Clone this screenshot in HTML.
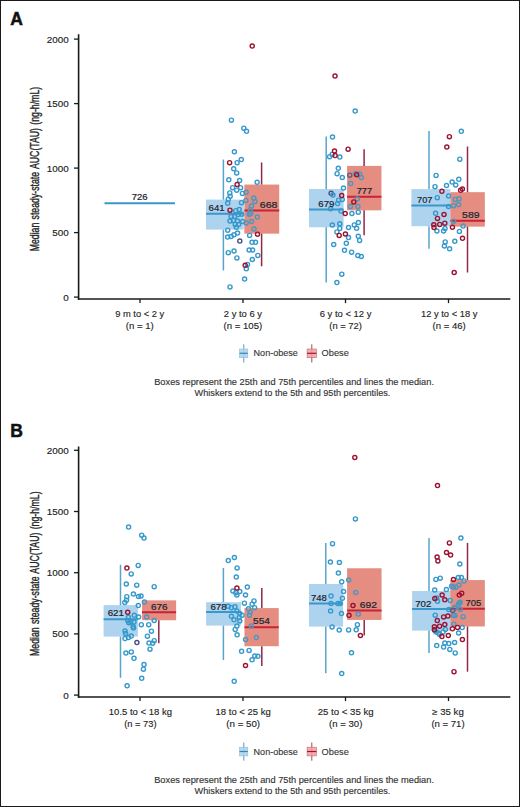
<!DOCTYPE html>
<html><head><meta charset="utf-8"><style>
html,body{margin:0;padding:0;background:#fff;}
body{width:520px;height:807px;overflow:hidden;}
svg{display:block;}
text{font-family:"Liberation Sans", sans-serif;}
</style></head><body>
<svg width="520" height="807" viewBox="0 0 520 807">
<rect x="0" y="0" width="520" height="807" fill="#fff"/>

<text x="10.3" y="25.0" font-size="17.5" fill="#111" font-weight="bold" stroke="#111" stroke-width="0.5">A</text>
<text x="0" y="0" font-size="12.3" fill="#222" stroke="#222" stroke-width="0.35" word-spacing="1.2" text-anchor="middle" textLength="164.5" lengthAdjust="spacingAndGlyphs" transform="translate(39.0,169.10) rotate(-90)">Median steady-state AUC(TAU) (ng-h/mL)</text>
<line x1="78.6" y1="34.2" x2="78.6" y2="299.70000000000005" stroke="#1a1a1a" stroke-width="1.6"/>
<line x1="77.8" y1="299.0" x2="510.3" y2="299.0" stroke="#1a1a1a" stroke-width="1.6"/>
<line x1="74" y1="297.10" x2="78.6" y2="297.10" stroke="#1a1a1a" stroke-width="1.3"/>
<text x="68.7" y="300.6" font-size="9.9" fill="#222" text-anchor="end" stroke="#222" stroke-width="0.15">0</text>
<line x1="74" y1="232.60" x2="78.6" y2="232.60" stroke="#1a1a1a" stroke-width="1.3"/>
<text x="68.7" y="236.1" font-size="9.9" fill="#222" text-anchor="end" stroke="#222" stroke-width="0.15">500</text>
<line x1="74" y1="168.10" x2="78.6" y2="168.10" stroke="#1a1a1a" stroke-width="1.3"/>
<text x="68.7" y="171.6" font-size="9.9" fill="#222" text-anchor="end" stroke="#222" stroke-width="0.15">1000</text>
<line x1="74" y1="103.60" x2="78.6" y2="103.60" stroke="#1a1a1a" stroke-width="1.3"/>
<text x="68.7" y="107.1" font-size="9.9" fill="#222" text-anchor="end" stroke="#222" stroke-width="0.15">1500</text>
<line x1="74" y1="39.10" x2="78.6" y2="39.10" stroke="#1a1a1a" stroke-width="1.3"/>
<text x="68.7" y="42.6" font-size="9.9" fill="#222" text-anchor="end" stroke="#222" stroke-width="0.15">2000</text>
<line x1="140" y1="299.0" x2="140" y2="303.1" stroke="#1a1a1a" stroke-width="1.3"/>
<line x1="243" y1="299.0" x2="243" y2="303.1" stroke="#1a1a1a" stroke-width="1.3"/>
<line x1="345.5" y1="299.0" x2="345.5" y2="303.1" stroke="#1a1a1a" stroke-width="1.3"/>
<line x1="448.5" y1="299.0" x2="448.5" y2="303.1" stroke="#1a1a1a" stroke-width="1.3"/>
<text x="139.7" y="316.9" font-size="8.8" fill="#222" text-anchor="middle" textLength="49" lengthAdjust="spacingAndGlyphs" stroke="#222" stroke-width="0.12">9 m to &lt; 2 y</text>
<text x="139.7" y="328.5" font-size="8.8" fill="#222" text-anchor="middle" textLength="28.0" lengthAdjust="spacingAndGlyphs" stroke="#222" stroke-width="0.12">(n = 1)</text>
<text x="242.9" y="316.9" font-size="8.8" fill="#222" text-anchor="middle" textLength="38.2" lengthAdjust="spacingAndGlyphs" stroke="#222" stroke-width="0.12">2 y to 6 y</text>
<text x="242.9" y="328.5" font-size="8.8" fill="#222" text-anchor="middle" textLength="38.7" lengthAdjust="spacingAndGlyphs" stroke="#222" stroke-width="0.12">(n = 105)</text>
<text x="345.6" y="316.9" font-size="8.8" fill="#222" text-anchor="middle" textLength="51.7" lengthAdjust="spacingAndGlyphs" stroke="#222" stroke-width="0.12">6 y to &lt; 12 y</text>
<text x="345.6" y="328.5" font-size="8.8" fill="#222" text-anchor="middle" textLength="32.6" lengthAdjust="spacingAndGlyphs" stroke="#222" stroke-width="0.12">(n = 72)</text>
<text x="449.2" y="316.9" font-size="8.8" fill="#222" text-anchor="middle" textLength="56.3" lengthAdjust="spacingAndGlyphs" stroke="#222" stroke-width="0.12">12 y to &lt; 18 y</text>
<text x="449.2" y="328.5" font-size="8.8" fill="#222" text-anchor="middle" textLength="33.2" lengthAdjust="spacingAndGlyphs" stroke="#222" stroke-width="0.12">(n = 46)</text>
<line x1="243.8" y1="344.30" x2="243.8" y2="362.50" stroke="#6d93b0" stroke-width="1.0"/>
<rect x="239.6" y="349.00" width="8.2" height="8.7" fill="#a9d3ef" fill-opacity="0.85" stroke="#8fbcd8" stroke-width="0.6"/>
<line x1="239.6" y1="353.30" x2="247.8" y2="353.30" stroke="#3a84b4" stroke-width="1.2"/>
<text x="253.6" y="356.4" font-size="8.8" fill="#333" textLength="44.2" lengthAdjust="spacingAndGlyphs" stroke="#333" stroke-width="0.12">Non-obese</text>
<line x1="311.8" y1="344.30" x2="311.8" y2="362.50" stroke="#9a4a5e" stroke-width="1.0"/>
<rect x="307.1" y="349.00" width="9.3" height="8.7" fill="#f0a0a0" fill-opacity="0.85" stroke="#c76a78" stroke-width="0.6"/>
<line x1="307.1" y1="353.30" x2="316.4" y2="353.30" stroke="#a8142c" stroke-width="1.2"/>
<text x="321.6" y="356.4" font-size="8.8" fill="#333" textLength="27.2" lengthAdjust="spacingAndGlyphs" stroke="#333" stroke-width="0.12">Obese</text>
<text x="154.2" y="385.0" font-size="9.8" fill="#333" textLength="279.8" lengthAdjust="spacingAndGlyphs" stroke="#333" stroke-width="0.15">Boxes represent the 25th and 75th percentiles and lines the median.</text>
<text x="194.6" y="396.3" font-size="9.8" fill="#333" textLength="195.8" lengthAdjust="spacingAndGlyphs" stroke="#333" stroke-width="0.15">Whiskers extend to the 5th and 95th percentiles.</text>
<text x="10.3" y="437.0" font-size="17.5" fill="#111" font-weight="bold" stroke="#111" stroke-width="0.5">B</text>
<text x="0" y="0" font-size="12.3" fill="#222" stroke="#222" stroke-width="0.35" word-spacing="1.2" text-anchor="middle" textLength="164.5" lengthAdjust="spacingAndGlyphs" transform="translate(39.0,573.70) rotate(-90)">Median steady-state AUC(TAU) (ng-h/mL)</text>
<line x1="78.6" y1="446.5" x2="78.6" y2="697.7" stroke="#1a1a1a" stroke-width="1.6"/>
<line x1="77.8" y1="697.0" x2="510.3" y2="697.0" stroke="#1a1a1a" stroke-width="1.6"/>
<line x1="74" y1="695.10" x2="78.6" y2="695.10" stroke="#1a1a1a" stroke-width="1.3"/>
<text x="68.7" y="698.6" font-size="9.9" fill="#222" text-anchor="end" stroke="#222" stroke-width="0.15">0</text>
<line x1="74" y1="633.90" x2="78.6" y2="633.90" stroke="#1a1a1a" stroke-width="1.3"/>
<text x="68.7" y="637.4" font-size="9.9" fill="#222" text-anchor="end" stroke="#222" stroke-width="0.15">500</text>
<line x1="74" y1="572.70" x2="78.6" y2="572.70" stroke="#1a1a1a" stroke-width="1.3"/>
<text x="68.7" y="576.2" font-size="9.9" fill="#222" text-anchor="end" stroke="#222" stroke-width="0.15">1000</text>
<line x1="74" y1="511.50" x2="78.6" y2="511.50" stroke="#1a1a1a" stroke-width="1.3"/>
<text x="68.7" y="515.0" font-size="9.9" fill="#222" text-anchor="end" stroke="#222" stroke-width="0.15">1500</text>
<line x1="74" y1="450.30" x2="78.6" y2="450.30" stroke="#1a1a1a" stroke-width="1.3"/>
<text x="68.7" y="453.8" font-size="9.9" fill="#222" text-anchor="end" stroke="#222" stroke-width="0.15">2000</text>
<line x1="140" y1="697.0" x2="140" y2="701.1" stroke="#1a1a1a" stroke-width="1.3"/>
<line x1="243" y1="697.0" x2="243" y2="701.1" stroke="#1a1a1a" stroke-width="1.3"/>
<line x1="345.5" y1="697.0" x2="345.5" y2="701.1" stroke="#1a1a1a" stroke-width="1.3"/>
<line x1="448.5" y1="697.0" x2="448.5" y2="701.1" stroke="#1a1a1a" stroke-width="1.3"/>
<text x="140.4" y="715.0" font-size="8.8" fill="#222" text-anchor="middle" textLength="63.2" lengthAdjust="spacingAndGlyphs" stroke="#222" stroke-width="0.12">10.5 to &lt; 18 kg</text>
<text x="140.4" y="726.7" font-size="8.8" fill="#222" text-anchor="middle" textLength="32.3" lengthAdjust="spacingAndGlyphs" stroke="#222" stroke-width="0.12">(n = 73)</text>
<text x="243.2" y="715.0" font-size="8.8" fill="#222" text-anchor="middle" textLength="55.3" lengthAdjust="spacingAndGlyphs" stroke="#222" stroke-width="0.12">18 to &lt; 25 kg</text>
<text x="243.2" y="726.7" font-size="8.8" fill="#222" text-anchor="middle" textLength="33.8" lengthAdjust="spacingAndGlyphs" stroke="#222" stroke-width="0.12">(n = 50)</text>
<text x="345.7" y="715.0" font-size="8.8" fill="#222" text-anchor="middle" textLength="56" lengthAdjust="spacingAndGlyphs" stroke="#222" stroke-width="0.12">25 to &lt; 35 kg</text>
<text x="345.7" y="726.7" font-size="8.8" fill="#222" text-anchor="middle" textLength="33.3" lengthAdjust="spacingAndGlyphs" stroke="#222" stroke-width="0.12">(n = 30)</text>
<text x="448.0" y="715.0" font-size="8.8" fill="#222" text-anchor="middle" textLength="31.7" lengthAdjust="spacingAndGlyphs" stroke="#222" stroke-width="0.12">≥ 35 kg</text>
<text x="448.0" y="726.7" font-size="8.8" fill="#222" text-anchor="middle" textLength="33.2" lengthAdjust="spacingAndGlyphs" stroke="#222" stroke-width="0.12">(n = 71)</text>
<line x1="243.8" y1="742.50" x2="243.8" y2="760.70" stroke="#6d93b0" stroke-width="1.0"/>
<rect x="239.6" y="747.20" width="8.2" height="8.7" fill="#a9d3ef" fill-opacity="0.85" stroke="#8fbcd8" stroke-width="0.6"/>
<line x1="239.6" y1="751.50" x2="247.8" y2="751.50" stroke="#3a84b4" stroke-width="1.2"/>
<text x="253.6" y="754.6" font-size="8.8" fill="#333" textLength="44.2" lengthAdjust="spacingAndGlyphs" stroke="#333" stroke-width="0.12">Non-obese</text>
<line x1="311.8" y1="742.50" x2="311.8" y2="760.70" stroke="#9a4a5e" stroke-width="1.0"/>
<rect x="307.1" y="747.20" width="9.3" height="8.7" fill="#f0a0a0" fill-opacity="0.85" stroke="#c76a78" stroke-width="0.6"/>
<line x1="307.1" y1="751.50" x2="316.4" y2="751.50" stroke="#a8142c" stroke-width="1.2"/>
<text x="321.6" y="754.6" font-size="8.8" fill="#333" textLength="27.2" lengthAdjust="spacingAndGlyphs" stroke="#333" stroke-width="0.12">Obese</text>
<text x="154.2" y="783.1" font-size="9.8" fill="#333" textLength="279.8" lengthAdjust="spacingAndGlyphs" stroke="#333" stroke-width="0.15">Boxes represent the 25th and 75th percentiles and lines the median.</text>
<text x="194.6" y="794.4" font-size="9.8" fill="#333" textLength="195.8" lengthAdjust="spacingAndGlyphs" stroke="#333" stroke-width="0.15">Whiskers extend to the 5th and 95th percentiles.</text>
<line x1="104.5" y1="203.2" x2="175" y2="203.2" stroke="#3898cb" stroke-width="2"/>
<text x="131.8" y="199.8" font-size="9.9" fill="#1c2430" textLength="15.8" lengthAdjust="spacingAndGlyphs" stroke="#1c2430" stroke-width="0.22">726</text>
<rect x="206.0" y="199.6" width="37.80" height="30.00" fill="#aed3ef"/>
<rect x="244.4" y="184.6" width="34.80" height="49.00" fill="#e48e80"/>
<rect x="309.0" y="189.0" width="34.60" height="38.30" fill="#aed3ef"/>
<rect x="347.1" y="165.9" width="34.30" height="44.40" fill="#e48e80"/>
<rect x="411.4" y="189.1" width="39.00" height="37.10" fill="#aed3ef"/>
<rect x="450.4" y="192.2" width="34.40" height="34.40" fill="#e48e80"/>
<rect x="103.6" y="605.1" width="34.30" height="31.50" fill="#aed3ef"/>
<rect x="142.1" y="600.4" width="34.00" height="19.80" fill="#e48e80"/>
<rect x="206.1" y="602.2" width="34.90" height="23.40" fill="#aed3ef"/>
<rect x="244.5" y="608.1" width="34.20" height="38.10" fill="#e48e80"/>
<rect x="309.0" y="584.0" width="34.10" height="42.60" fill="#aed3ef"/>
<rect x="347.1" y="568.3" width="34.40" height="51.60" fill="#e48e80"/>
<rect x="412.1" y="591.0" width="38.20" height="39.60" fill="#aed3ef"/>
<rect x="450.3" y="580.1" width="34.50" height="46.30" fill="#e48e80"/>
<line x1="223.4" y1="159.6" x2="223.4" y2="199.6" stroke="#58a4cc" stroke-width="1.5"/>
<line x1="223.4" y1="229.6" x2="223.4" y2="270.5" stroke="#58a4cc" stroke-width="1.5"/>
<line x1="261.6" y1="162.5" x2="261.6" y2="184.6" stroke="#902848" stroke-width="1.5"/>
<line x1="261.6" y1="233.6" x2="261.6" y2="266.3" stroke="#902848" stroke-width="1.5"/>
<line x1="326.2" y1="136.5" x2="326.2" y2="189.0" stroke="#58a4cc" stroke-width="1.5"/>
<line x1="326.2" y1="227.3" x2="326.2" y2="282.4" stroke="#58a4cc" stroke-width="1.5"/>
<line x1="364.1" y1="149.2" x2="364.1" y2="165.9" stroke="#902848" stroke-width="1.5"/>
<line x1="364.1" y1="210.3" x2="364.1" y2="235.3" stroke="#902848" stroke-width="1.5"/>
<line x1="429.0" y1="131.0" x2="429.0" y2="189.1" stroke="#58a4cc" stroke-width="1.5"/>
<line x1="429.0" y1="226.2" x2="429.0" y2="248.8" stroke="#58a4cc" stroke-width="1.5"/>
<line x1="467.5" y1="146.5" x2="467.5" y2="192.2" stroke="#902848" stroke-width="1.5"/>
<line x1="467.5" y1="226.6" x2="467.5" y2="272.5" stroke="#902848" stroke-width="1.5"/>
<line x1="120.5" y1="564.7" x2="120.5" y2="605.1" stroke="#58a4cc" stroke-width="1.5"/>
<line x1="120.5" y1="636.6" x2="120.5" y2="677.8" stroke="#58a4cc" stroke-width="1.5"/>
<line x1="158.8" y1="620.2" x2="158.8" y2="643.3" stroke="#902848" stroke-width="1.5"/>
<line x1="223.4" y1="567.9" x2="223.4" y2="602.2" stroke="#58a4cc" stroke-width="1.5"/>
<line x1="223.4" y1="625.6" x2="223.4" y2="660.0" stroke="#58a4cc" stroke-width="1.5"/>
<line x1="261.8" y1="588.1" x2="261.8" y2="608.1" stroke="#902848" stroke-width="1.5"/>
<line x1="261.8" y1="646.2" x2="261.8" y2="665.9" stroke="#902848" stroke-width="1.5"/>
<line x1="325.8" y1="543.1" x2="325.8" y2="584.0" stroke="#58a4cc" stroke-width="1.5"/>
<line x1="325.8" y1="626.6" x2="325.8" y2="673.2" stroke="#58a4cc" stroke-width="1.5"/>
<line x1="364.2" y1="619.9" x2="364.2" y2="635.5" stroke="#902848" stroke-width="1.5"/>
<line x1="429.0" y1="538.1" x2="429.0" y2="591.0" stroke="#58a4cc" stroke-width="1.5"/>
<line x1="429.0" y1="630.6" x2="429.0" y2="652.9" stroke="#58a4cc" stroke-width="1.5"/>
<line x1="467.5" y1="542.9" x2="467.5" y2="580.1" stroke="#902848" stroke-width="1.5"/>
<line x1="467.5" y1="626.4" x2="467.5" y2="671.7" stroke="#902848" stroke-width="1.5"/>
<line x1="206.0" y1="213.8" x2="243.8" y2="213.8" stroke="#3898cb" stroke-width="2"/>
<line x1="244.4" y1="210.4" x2="279.2" y2="210.4" stroke="#c2102c" stroke-width="2"/>
<line x1="309.0" y1="209.4" x2="343.6" y2="209.4" stroke="#3898cb" stroke-width="2"/>
<line x1="347.1" y1="196.8" x2="381.4" y2="196.8" stroke="#c2102c" stroke-width="2"/>
<line x1="411.4" y1="205.5" x2="450.4" y2="205.5" stroke="#3898cb" stroke-width="2"/>
<line x1="450.4" y1="220.8" x2="484.8" y2="220.8" stroke="#c2102c" stroke-width="2"/>
<line x1="103.6" y1="619.2" x2="137.9" y2="619.2" stroke="#3898cb" stroke-width="2"/>
<line x1="142.1" y1="612.3" x2="176.1" y2="612.3" stroke="#c2102c" stroke-width="2"/>
<line x1="206.1" y1="612.1" x2="241.0" y2="612.1" stroke="#3898cb" stroke-width="2"/>
<line x1="244.5" y1="627.2" x2="278.7" y2="627.2" stroke="#c2102c" stroke-width="2"/>
<line x1="309.0" y1="603.6" x2="343.1" y2="603.6" stroke="#3898cb" stroke-width="2"/>
<line x1="347.1" y1="610.4" x2="381.5" y2="610.4" stroke="#c2102c" stroke-width="2"/>
<line x1="412.1" y1="608.9" x2="450.3" y2="608.9" stroke="#3898cb" stroke-width="2"/>
<line x1="450.3" y1="608.7" x2="484.8" y2="608.7" stroke="#c2102c" stroke-width="2"/>
<circle cx="231.4" cy="120.2" r="2.05" fill="none" stroke="#3599cb" stroke-width="1.4"/>
<circle cx="243.8" cy="128.2" r="2.05" fill="none" stroke="#3599cb" stroke-width="1.4"/>
<circle cx="246.5" cy="131.3" r="2.05" fill="none" stroke="#3599cb" stroke-width="1.4"/>
<circle cx="234.4" cy="151.8" r="2.05" fill="none" stroke="#3599cb" stroke-width="1.4"/>
<circle cx="241.3" cy="159.6" r="2.05" fill="none" stroke="#3599cb" stroke-width="1.4"/>
<circle cx="237.1" cy="162.7" r="2.05" fill="none" stroke="#3599cb" stroke-width="1.4"/>
<circle cx="233.7" cy="168.8" r="2.05" fill="none" stroke="#3599cb" stroke-width="1.4"/>
<circle cx="236.7" cy="172.9" r="2.05" fill="none" stroke="#3599cb" stroke-width="1.4"/>
<circle cx="228.8" cy="179.8" r="2.05" fill="none" stroke="#3599cb" stroke-width="1.4"/>
<circle cx="239.6" cy="180.5" r="2.05" fill="none" stroke="#3599cb" stroke-width="1.4"/>
<circle cx="257.1" cy="182.3" r="2.05" fill="none" stroke="#3599cb" stroke-width="1.4"/>
<circle cx="232.6" cy="187.7" r="2.05" fill="none" stroke="#3599cb" stroke-width="1.4"/>
<circle cx="236.7" cy="190.2" r="2.05" fill="none" stroke="#3599cb" stroke-width="1.4"/>
<circle cx="240.6" cy="187.7" r="2.05" fill="none" stroke="#3599cb" stroke-width="1.4"/>
<circle cx="242.4" cy="193.4" r="2.05" fill="none" stroke="#3599cb" stroke-width="1.4"/>
<circle cx="229.8" cy="192.9" r="2.05" fill="none" stroke="#3599cb" stroke-width="1.4"/>
<circle cx="230.2" cy="196.3" r="2.05" fill="none" stroke="#3599cb" stroke-width="1.4"/>
<circle cx="228.3" cy="199.2" r="2.05" fill="none" stroke="#3599cb" stroke-width="1.4"/>
<circle cx="227.7" cy="203.3" r="2.05" fill="none" stroke="#3599cb" stroke-width="1.4"/>
<circle cx="241.5" cy="202.7" r="2.05" fill="none" stroke="#3599cb" stroke-width="1.4"/>
<circle cx="245.9" cy="200.4" r="2.05" fill="none" stroke="#3599cb" stroke-width="1.4"/>
<circle cx="246.1" cy="192.3" r="2.05" fill="none" stroke="#3599cb" stroke-width="1.4"/>
<circle cx="235.8" cy="210.7" r="2.05" fill="none" stroke="#3599cb" stroke-width="1.4"/>
<circle cx="239.2" cy="209.6" r="2.05" fill="none" stroke="#3599cb" stroke-width="1.4"/>
<circle cx="241.8" cy="214.2" r="2.05" fill="none" stroke="#3599cb" stroke-width="1.4"/>
<circle cx="231.1" cy="216.5" r="2.05" fill="none" stroke="#3599cb" stroke-width="1.4"/>
<circle cx="234.6" cy="216.5" r="2.05" fill="none" stroke="#3599cb" stroke-width="1.4"/>
<circle cx="253.8" cy="198.1" r="2.05" fill="none" stroke="#3599cb" stroke-width="1.4"/>
<circle cx="255.0" cy="201.5" r="2.05" fill="none" stroke="#3599cb" stroke-width="1.4"/>
<circle cx="251.5" cy="206.1" r="2.05" fill="none" stroke="#3599cb" stroke-width="1.4"/>
<circle cx="250.4" cy="209.6" r="2.05" fill="none" stroke="#3599cb" stroke-width="1.4"/>
<circle cx="249.2" cy="214.2" r="2.05" fill="none" stroke="#3599cb" stroke-width="1.4"/>
<circle cx="257.3" cy="217.1" r="2.05" fill="none" stroke="#3599cb" stroke-width="1.4"/>
<circle cx="238.0" cy="214.6" r="2.05" fill="none" stroke="#3599cb" stroke-width="1.4"/>
<circle cx="230.0" cy="221.0" r="2.05" fill="none" stroke="#3599cb" stroke-width="1.4"/>
<circle cx="233.4" cy="220.4" r="2.05" fill="none" stroke="#3599cb" stroke-width="1.4"/>
<circle cx="237.5" cy="221.0" r="2.05" fill="none" stroke="#3599cb" stroke-width="1.4"/>
<circle cx="235.2" cy="224.4" r="2.05" fill="none" stroke="#3599cb" stroke-width="1.4"/>
<circle cx="238.6" cy="224.4" r="2.05" fill="none" stroke="#3599cb" stroke-width="1.4"/>
<circle cx="236.3" cy="227.3" r="2.05" fill="none" stroke="#3599cb" stroke-width="1.4"/>
<circle cx="242.7" cy="221.5" r="2.05" fill="none" stroke="#3599cb" stroke-width="1.4"/>
<circle cx="227.7" cy="230.2" r="2.05" fill="none" stroke="#3599cb" stroke-width="1.4"/>
<circle cx="227.7" cy="237.1" r="2.05" fill="none" stroke="#3599cb" stroke-width="1.4"/>
<circle cx="231.1" cy="236.5" r="2.05" fill="none" stroke="#3599cb" stroke-width="1.4"/>
<circle cx="234.0" cy="234.8" r="2.05" fill="none" stroke="#3599cb" stroke-width="1.4"/>
<circle cx="237.5" cy="233.1" r="2.05" fill="none" stroke="#3599cb" stroke-width="1.4"/>
<circle cx="239.8" cy="241.1" r="2.05" fill="none" stroke="#4a4f86" stroke-width="1.4"/>
<circle cx="228.3" cy="252.7" r="2.05" fill="none" stroke="#3599cb" stroke-width="1.4"/>
<circle cx="234.0" cy="251.0" r="2.05" fill="none" stroke="#3599cb" stroke-width="1.4"/>
<circle cx="236.9" cy="257.9" r="2.05" fill="none" stroke="#3599cb" stroke-width="1.4"/>
<circle cx="247.5" cy="264.4" r="2.05" fill="none" stroke="#3599cb" stroke-width="1.4"/>
<circle cx="246.3" cy="268.8" r="2.05" fill="none" stroke="#3599cb" stroke-width="1.4"/>
<circle cx="249.6" cy="235.4" r="2.05" fill="none" stroke="#3599cb" stroke-width="1.4"/>
<circle cx="252.0" cy="242.3" r="2.05" fill="none" stroke="#3599cb" stroke-width="1.4"/>
<circle cx="255.5" cy="242.3" r="2.05" fill="none" stroke="#3599cb" stroke-width="1.4"/>
<circle cx="249.1" cy="250.0" r="2.05" fill="none" stroke="#3599cb" stroke-width="1.4"/>
<circle cx="252.6" cy="250.0" r="2.05" fill="none" stroke="#3599cb" stroke-width="1.4"/>
<circle cx="252.3" cy="259.5" r="2.05" fill="none" stroke="#3599cb" stroke-width="1.4"/>
<circle cx="257.8" cy="255.4" r="2.05" fill="none" stroke="#3599cb" stroke-width="1.4"/>
<circle cx="254.0" cy="229.0" r="2.05" fill="none" stroke="#3599cb" stroke-width="1.4"/>
<circle cx="250.7" cy="213.5" r="2.05" fill="none" stroke="#3599cb" stroke-width="1.4"/>
<circle cx="246.2" cy="223.0" r="2.05" fill="none" stroke="#3599cb" stroke-width="1.4"/>
<circle cx="251.5" cy="221.5" r="2.05" fill="none" stroke="#3599cb" stroke-width="1.4"/>
<circle cx="244.6" cy="279.1" r="2.05" fill="none" stroke="#3599cb" stroke-width="1.4"/>
<circle cx="230.0" cy="286.9" r="2.05" fill="none" stroke="#3599cb" stroke-width="1.4"/>
<circle cx="355.2" cy="111.1" r="2.05" fill="none" stroke="#3599cb" stroke-width="1.4"/>
<circle cx="332.5" cy="137.1" r="2.05" fill="none" stroke="#3599cb" stroke-width="1.4"/>
<circle cx="329.6" cy="156.7" r="2.05" fill="none" stroke="#3599cb" stroke-width="1.4"/>
<circle cx="332.1" cy="154.4" r="2.05" fill="none" stroke="#3599cb" stroke-width="1.4"/>
<circle cx="339.8" cy="157.1" r="2.05" fill="none" stroke="#3599cb" stroke-width="1.4"/>
<circle cx="338.3" cy="168.3" r="2.05" fill="none" stroke="#3599cb" stroke-width="1.4"/>
<circle cx="337.1" cy="173.7" r="2.05" fill="none" stroke="#3599cb" stroke-width="1.4"/>
<circle cx="342.3" cy="177.5" r="2.05" fill="none" stroke="#3599cb" stroke-width="1.4"/>
<circle cx="349.8" cy="175.2" r="2.05" fill="none" stroke="#4a4f86" stroke-width="1.4"/>
<circle cx="355.6" cy="173.4" r="2.05" fill="none" stroke="#3599cb" stroke-width="1.4"/>
<circle cx="359.6" cy="174.0" r="2.05" fill="none" stroke="#3599cb" stroke-width="1.4"/>
<circle cx="361.3" cy="177.5" r="2.05" fill="none" stroke="#3599cb" stroke-width="1.4"/>
<circle cx="350.7" cy="183.6" r="2.05" fill="none" stroke="#3599cb" stroke-width="1.4"/>
<circle cx="343.5" cy="188.1" r="2.05" fill="none" stroke="#3599cb" stroke-width="1.4"/>
<circle cx="342.3" cy="199.6" r="2.05" fill="none" stroke="#3599cb" stroke-width="1.4"/>
<circle cx="357.3" cy="199.0" r="2.05" fill="none" stroke="#3599cb" stroke-width="1.4"/>
<circle cx="350.4" cy="206.5" r="2.05" fill="none" stroke="#3599cb" stroke-width="1.4"/>
<circle cx="357.9" cy="206.5" r="2.05" fill="none" stroke="#3599cb" stroke-width="1.4"/>
<circle cx="331.1" cy="193.3" r="2.05" fill="none" stroke="#4a4f86" stroke-width="1.4"/>
<circle cx="332.9" cy="195.0" r="2.05" fill="none" stroke="#3599cb" stroke-width="1.4"/>
<circle cx="338.6" cy="200.2" r="2.05" fill="none" stroke="#3599cb" stroke-width="1.4"/>
<circle cx="337.5" cy="203.6" r="2.05" fill="none" stroke="#3599cb" stroke-width="1.4"/>
<circle cx="330.6" cy="208.8" r="2.05" fill="none" stroke="#3599cb" stroke-width="1.4"/>
<circle cx="341.0" cy="211.1" r="2.05" fill="none" stroke="#3599cb" stroke-width="1.4"/>
<circle cx="351.9" cy="213.5" r="2.05" fill="none" stroke="#3599cb" stroke-width="1.4"/>
<circle cx="358.3" cy="212.2" r="2.05" fill="none" stroke="#3599cb" stroke-width="1.4"/>
<circle cx="332.3" cy="225.0" r="2.05" fill="none" stroke="#3599cb" stroke-width="1.4"/>
<circle cx="339.8" cy="223.8" r="2.05" fill="none" stroke="#3599cb" stroke-width="1.4"/>
<circle cx="339.8" cy="228.4" r="2.05" fill="none" stroke="#3599cb" stroke-width="1.4"/>
<circle cx="336.9" cy="231.9" r="2.05" fill="none" stroke="#3599cb" stroke-width="1.4"/>
<circle cx="348.5" cy="227.5" r="2.05" fill="none" stroke="#3599cb" stroke-width="1.4"/>
<circle cx="348.5" cy="237.6" r="2.05" fill="none" stroke="#3599cb" stroke-width="1.4"/>
<circle cx="354.3" cy="224.9" r="2.05" fill="none" stroke="#3599cb" stroke-width="1.4"/>
<circle cx="356.6" cy="228.3" r="2.05" fill="none" stroke="#3599cb" stroke-width="1.4"/>
<circle cx="358.4" cy="222.6" r="2.05" fill="none" stroke="#3599cb" stroke-width="1.4"/>
<circle cx="358.3" cy="236.3" r="2.05" fill="none" stroke="#3599cb" stroke-width="1.4"/>
<circle cx="359.6" cy="240.4" r="2.05" fill="none" stroke="#3599cb" stroke-width="1.4"/>
<circle cx="333.7" cy="244.5" r="2.05" fill="none" stroke="#3599cb" stroke-width="1.4"/>
<circle cx="346.3" cy="243.3" r="2.05" fill="none" stroke="#3599cb" stroke-width="1.4"/>
<circle cx="344.5" cy="250.3" r="2.05" fill="none" stroke="#3599cb" stroke-width="1.4"/>
<circle cx="351.6" cy="252.2" r="2.05" fill="none" stroke="#3599cb" stroke-width="1.4"/>
<circle cx="357.8" cy="255.5" r="2.05" fill="none" stroke="#3599cb" stroke-width="1.4"/>
<circle cx="361.3" cy="256.5" r="2.05" fill="none" stroke="#3599cb" stroke-width="1.4"/>
<circle cx="341.8" cy="274.2" r="2.05" fill="none" stroke="#3599cb" stroke-width="1.4"/>
<circle cx="336.9" cy="282.6" r="2.05" fill="none" stroke="#3599cb" stroke-width="1.4"/>
<circle cx="461.3" cy="131.3" r="2.05" fill="none" stroke="#3599cb" stroke-width="1.4"/>
<circle cx="459.8" cy="159.2" r="2.05" fill="none" stroke="#3599cb" stroke-width="1.4"/>
<circle cx="436.1" cy="175.4" r="2.05" fill="none" stroke="#3599cb" stroke-width="1.4"/>
<circle cx="458.8" cy="179.3" r="2.05" fill="none" stroke="#3599cb" stroke-width="1.4"/>
<circle cx="435.0" cy="186.7" r="2.05" fill="none" stroke="#3599cb" stroke-width="1.4"/>
<circle cx="446.5" cy="185.6" r="2.05" fill="none" stroke="#3599cb" stroke-width="1.4"/>
<circle cx="452.1" cy="182.1" r="2.05" fill="none" stroke="#3599cb" stroke-width="1.4"/>
<circle cx="455.7" cy="185.0" r="2.05" fill="none" stroke="#3599cb" stroke-width="1.4"/>
<circle cx="437.3" cy="197.7" r="2.05" fill="none" stroke="#3599cb" stroke-width="1.4"/>
<circle cx="448.6" cy="196.0" r="2.05" fill="none" stroke="#3599cb" stroke-width="1.4"/>
<circle cx="455.2" cy="199.4" r="2.05" fill="none" stroke="#3599cb" stroke-width="1.4"/>
<circle cx="459.0" cy="198.8" r="2.05" fill="none" stroke="#3599cb" stroke-width="1.4"/>
<circle cx="458.6" cy="204.6" r="2.05" fill="none" stroke="#3599cb" stroke-width="1.4"/>
<circle cx="448.6" cy="206.4" r="2.05" fill="none" stroke="#3599cb" stroke-width="1.4"/>
<circle cx="453.6" cy="205.8" r="2.05" fill="none" stroke="#3599cb" stroke-width="1.4"/>
<circle cx="435.6" cy="213.3" r="2.05" fill="none" stroke="#3599cb" stroke-width="1.4"/>
<circle cx="453.6" cy="221.4" r="2.05" fill="none" stroke="#3599cb" stroke-width="1.4"/>
<circle cx="463.1" cy="226.1" r="2.05" fill="none" stroke="#3599cb" stroke-width="1.4"/>
<circle cx="459.4" cy="231.4" r="2.05" fill="none" stroke="#3599cb" stroke-width="1.4"/>
<circle cx="445.0" cy="228.6" r="2.05" fill="none" stroke="#3599cb" stroke-width="1.4"/>
<circle cx="443.6" cy="231.0" r="2.05" fill="none" stroke="#3599cb" stroke-width="1.4"/>
<circle cx="436.9" cy="231.0" r="2.05" fill="none" stroke="#3599cb" stroke-width="1.4"/>
<circle cx="454.8" cy="241.3" r="2.05" fill="none" stroke="#3599cb" stroke-width="1.4"/>
<circle cx="445.2" cy="241.9" r="2.05" fill="none" stroke="#3599cb" stroke-width="1.4"/>
<circle cx="444.4" cy="246.0" r="2.05" fill="none" stroke="#3599cb" stroke-width="1.4"/>
<circle cx="449.6" cy="248.8" r="2.05" fill="none" stroke="#3599cb" stroke-width="1.4"/>
<circle cx="128.6" cy="527.1" r="2.05" fill="none" stroke="#3599cb" stroke-width="1.4"/>
<circle cx="141.7" cy="535.2" r="2.05" fill="none" stroke="#3599cb" stroke-width="1.4"/>
<circle cx="144.0" cy="538.1" r="2.05" fill="none" stroke="#3599cb" stroke-width="1.4"/>
<circle cx="138.2" cy="565.4" r="2.05" fill="none" stroke="#3599cb" stroke-width="1.4"/>
<circle cx="131.2" cy="573.9" r="2.05" fill="none" stroke="#3599cb" stroke-width="1.4"/>
<circle cx="126.3" cy="584.0" r="2.05" fill="none" stroke="#3599cb" stroke-width="1.4"/>
<circle cx="136.7" cy="585.2" r="2.05" fill="none" stroke="#3599cb" stroke-width="1.4"/>
<circle cx="154.2" cy="586.7" r="2.05" fill="none" stroke="#3599cb" stroke-width="1.4"/>
<circle cx="133.4" cy="594.1" r="2.05" fill="none" stroke="#3599cb" stroke-width="1.4"/>
<circle cx="138.5" cy="596.5" r="2.05" fill="none" stroke="#3599cb" stroke-width="1.4"/>
<circle cx="141.0" cy="596.0" r="2.05" fill="none" stroke="#3599cb" stroke-width="1.4"/>
<circle cx="126.8" cy="596.7" r="2.05" fill="none" stroke="#3599cb" stroke-width="1.4"/>
<circle cx="126.5" cy="600.2" r="2.05" fill="none" stroke="#3599cb" stroke-width="1.4"/>
<circle cx="124.8" cy="602.5" r="2.05" fill="none" stroke="#3599cb" stroke-width="1.4"/>
<circle cx="138.3" cy="605.6" r="2.05" fill="none" stroke="#3599cb" stroke-width="1.4"/>
<circle cx="144.4" cy="602.0" r="2.05" fill="none" stroke="#3599cb" stroke-width="1.4"/>
<circle cx="134.3" cy="615.3" r="2.05" fill="none" stroke="#3599cb" stroke-width="1.4"/>
<circle cx="138.6" cy="617.0" r="2.05" fill="none" stroke="#3599cb" stroke-width="1.4"/>
<circle cx="146.7" cy="617.0" r="2.05" fill="none" stroke="#3599cb" stroke-width="1.4"/>
<circle cx="154.2" cy="620.5" r="2.05" fill="none" stroke="#3599cb" stroke-width="1.4"/>
<circle cx="127.7" cy="620.4" r="2.05" fill="none" stroke="#3599cb" stroke-width="1.4"/>
<circle cx="128.8" cy="622.7" r="2.05" fill="none" stroke="#3599cb" stroke-width="1.4"/>
<circle cx="134.0" cy="622.1" r="2.05" fill="none" stroke="#3599cb" stroke-width="1.4"/>
<circle cx="141.3" cy="624.7" r="2.05" fill="none" stroke="#3599cb" stroke-width="1.4"/>
<circle cx="148.7" cy="624.7" r="2.05" fill="none" stroke="#3599cb" stroke-width="1.4"/>
<circle cx="133.5" cy="628.1" r="2.05" fill="none" stroke="#3599cb" stroke-width="1.4"/>
<circle cx="151.4" cy="631.2" r="2.05" fill="none" stroke="#3599cb" stroke-width="1.4"/>
<circle cx="147.4" cy="636.2" r="2.05" fill="none" stroke="#3599cb" stroke-width="1.4"/>
<circle cx="131.2" cy="636.1" r="2.05" fill="none" stroke="#3599cb" stroke-width="1.4"/>
<circle cx="136.9" cy="642.6" r="2.05" fill="none" stroke="#4a4f86" stroke-width="1.4"/>
<circle cx="149.0" cy="643.1" r="2.05" fill="none" stroke="#3599cb" stroke-width="1.4"/>
<circle cx="152.6" cy="643.2" r="2.05" fill="none" stroke="#3599cb" stroke-width="1.4"/>
<circle cx="154.2" cy="640.7" r="2.05" fill="none" stroke="#3599cb" stroke-width="1.4"/>
<circle cx="150.0" cy="649.2" r="2.05" fill="none" stroke="#3599cb" stroke-width="1.4"/>
<circle cx="128.4" cy="617.3" r="2.05" fill="none" stroke="#3599cb" stroke-width="1.4"/>
<circle cx="130.8" cy="621.9" r="2.05" fill="none" stroke="#3599cb" stroke-width="1.4"/>
<circle cx="133.1" cy="626.5" r="2.05" fill="none" stroke="#3599cb" stroke-width="1.4"/>
<circle cx="125.0" cy="631.1" r="2.05" fill="none" stroke="#3599cb" stroke-width="1.4"/>
<circle cx="125.6" cy="633.5" r="2.05" fill="none" stroke="#3599cb" stroke-width="1.4"/>
<circle cx="125.0" cy="638.6" r="2.05" fill="none" stroke="#3599cb" stroke-width="1.4"/>
<circle cx="128.4" cy="637.5" r="2.05" fill="none" stroke="#3599cb" stroke-width="1.4"/>
<circle cx="125.9" cy="653.1" r="2.05" fill="none" stroke="#3599cb" stroke-width="1.4"/>
<circle cx="131.3" cy="651.9" r="2.05" fill="none" stroke="#3599cb" stroke-width="1.4"/>
<circle cx="134.0" cy="658.3" r="2.05" fill="none" stroke="#3599cb" stroke-width="1.4"/>
<circle cx="144.0" cy="664.6" r="2.05" fill="none" stroke="#3599cb" stroke-width="1.4"/>
<circle cx="143.4" cy="669.2" r="2.05" fill="none" stroke="#3599cb" stroke-width="1.4"/>
<circle cx="141.7" cy="678.3" r="2.05" fill="none" stroke="#3599cb" stroke-width="1.4"/>
<circle cx="127.1" cy="685.8" r="2.05" fill="none" stroke="#3599cb" stroke-width="1.4"/>
<circle cx="228.3" cy="560.6" r="2.05" fill="none" stroke="#3599cb" stroke-width="1.4"/>
<circle cx="234.4" cy="557.5" r="2.05" fill="none" stroke="#3599cb" stroke-width="1.4"/>
<circle cx="237.1" cy="567.9" r="2.05" fill="none" stroke="#3599cb" stroke-width="1.4"/>
<circle cx="236.3" cy="577.1" r="2.05" fill="none" stroke="#3599cb" stroke-width="1.4"/>
<circle cx="247.3" cy="587.1" r="2.05" fill="none" stroke="#3599cb" stroke-width="1.4"/>
<circle cx="232.9" cy="591.0" r="2.05" fill="none" stroke="#3599cb" stroke-width="1.4"/>
<circle cx="235.8" cy="592.7" r="2.05" fill="none" stroke="#3599cb" stroke-width="1.4"/>
<circle cx="239.8" cy="591.5" r="2.05" fill="none" stroke="#3599cb" stroke-width="1.4"/>
<circle cx="236.9" cy="595.0" r="2.05" fill="none" stroke="#3599cb" stroke-width="1.4"/>
<circle cx="245.5" cy="595.0" r="2.05" fill="none" stroke="#3599cb" stroke-width="1.4"/>
<circle cx="244.4" cy="603.2" r="2.05" fill="none" stroke="#3599cb" stroke-width="1.4"/>
<circle cx="254.0" cy="600.9" r="2.05" fill="none" stroke="#3599cb" stroke-width="1.4"/>
<circle cx="252.1" cy="604.2" r="2.05" fill="none" stroke="#3599cb" stroke-width="1.4"/>
<circle cx="228.2" cy="606.3" r="2.05" fill="none" stroke="#3599cb" stroke-width="1.4"/>
<circle cx="234.9" cy="606.8" r="2.05" fill="none" stroke="#3599cb" stroke-width="1.4"/>
<circle cx="248.5" cy="608.8" r="2.05" fill="none" stroke="#3599cb" stroke-width="1.4"/>
<circle cx="231.4" cy="607.7" r="2.05" fill="none" stroke="#3599cb" stroke-width="1.4"/>
<circle cx="236.9" cy="611.1" r="2.05" fill="none" stroke="#3599cb" stroke-width="1.4"/>
<circle cx="239.8" cy="613.5" r="2.05" fill="none" stroke="#3599cb" stroke-width="1.4"/>
<circle cx="242.1" cy="615.2" r="2.05" fill="none" stroke="#3599cb" stroke-width="1.4"/>
<circle cx="231.4" cy="616.3" r="2.05" fill="none" stroke="#3599cb" stroke-width="1.4"/>
<circle cx="234.0" cy="619.8" r="2.05" fill="none" stroke="#3599cb" stroke-width="1.4"/>
<circle cx="239.2" cy="617.5" r="2.05" fill="none" stroke="#3599cb" stroke-width="1.4"/>
<circle cx="239.8" cy="621.0" r="2.05" fill="none" stroke="#3599cb" stroke-width="1.4"/>
<circle cx="236.9" cy="626.1" r="2.05" fill="none" stroke="#3599cb" stroke-width="1.4"/>
<circle cx="235.2" cy="629.4" r="2.05" fill="none" stroke="#3599cb" stroke-width="1.4"/>
<circle cx="237.1" cy="634.8" r="2.05" fill="none" stroke="#3599cb" stroke-width="1.4"/>
<circle cx="250.2" cy="612.3" r="2.05" fill="none" stroke="#3599cb" stroke-width="1.4"/>
<circle cx="249.5" cy="615.2" r="2.05" fill="none" stroke="#3599cb" stroke-width="1.4"/>
<circle cx="251.3" cy="626.1" r="2.05" fill="none" stroke="#3599cb" stroke-width="1.4"/>
<circle cx="245.6" cy="639.6" r="2.05" fill="none" stroke="#3599cb" stroke-width="1.4"/>
<circle cx="256.3" cy="637.6" r="2.05" fill="none" stroke="#3599cb" stroke-width="1.4"/>
<circle cx="241.6" cy="651.3" r="2.05" fill="none" stroke="#3599cb" stroke-width="1.4"/>
<circle cx="249.1" cy="650.4" r="2.05" fill="none" stroke="#3599cb" stroke-width="1.4"/>
<circle cx="254.6" cy="607.7" r="2.05" fill="none" stroke="#3599cb" stroke-width="1.4"/>
<circle cx="254.8" cy="656.0" r="2.05" fill="none" stroke="#3599cb" stroke-width="1.4"/>
<circle cx="257.9" cy="656.3" r="2.05" fill="none" stroke="#3599cb" stroke-width="1.4"/>
<circle cx="252.1" cy="659.8" r="2.05" fill="none" stroke="#3599cb" stroke-width="1.4"/>
<circle cx="234.2" cy="681.3" r="2.05" fill="none" stroke="#3599cb" stroke-width="1.4"/>
<circle cx="355.4" cy="518.9" r="2.05" fill="none" stroke="#3599cb" stroke-width="1.4"/>
<circle cx="332.5" cy="543.7" r="2.05" fill="none" stroke="#3599cb" stroke-width="1.4"/>
<circle cx="330.4" cy="562.1" r="2.05" fill="none" stroke="#3599cb" stroke-width="1.4"/>
<circle cx="339.4" cy="562.5" r="2.05" fill="none" stroke="#3599cb" stroke-width="1.4"/>
<circle cx="338.4" cy="573.1" r="2.05" fill="none" stroke="#3599cb" stroke-width="1.4"/>
<circle cx="341.7" cy="581.8" r="2.05" fill="none" stroke="#3599cb" stroke-width="1.4"/>
<circle cx="348.7" cy="580.0" r="2.05" fill="none" stroke="#3599cb" stroke-width="1.4"/>
<circle cx="343.6" cy="591.5" r="2.05" fill="none" stroke="#3599cb" stroke-width="1.4"/>
<circle cx="355.8" cy="592.5" r="2.05" fill="none" stroke="#3599cb" stroke-width="1.4"/>
<circle cx="331.0" cy="596.1" r="2.05" fill="none" stroke="#3599cb" stroke-width="1.4"/>
<circle cx="342.4" cy="598.3" r="2.05" fill="none" stroke="#3599cb" stroke-width="1.4"/>
<circle cx="331.0" cy="603.6" r="2.05" fill="none" stroke="#3599cb" stroke-width="1.4"/>
<circle cx="337.9" cy="603.6" r="2.05" fill="none" stroke="#3599cb" stroke-width="1.4"/>
<circle cx="340.2" cy="603.6" r="2.05" fill="none" stroke="#3599cb" stroke-width="1.4"/>
<circle cx="330.6" cy="611.1" r="2.05" fill="none" stroke="#3599cb" stroke-width="1.4"/>
<circle cx="341.5" cy="613.6" r="2.05" fill="none" stroke="#3599cb" stroke-width="1.4"/>
<circle cx="358.3" cy="614.1" r="2.05" fill="none" stroke="#3599cb" stroke-width="1.4"/>
<circle cx="332.1" cy="626.9" r="2.05" fill="none" stroke="#3599cb" stroke-width="1.4"/>
<circle cx="339.2" cy="630.1" r="2.05" fill="none" stroke="#3599cb" stroke-width="1.4"/>
<circle cx="348.6" cy="629.9" r="2.05" fill="none" stroke="#3599cb" stroke-width="1.4"/>
<circle cx="357.4" cy="624.7" r="2.05" fill="none" stroke="#3599cb" stroke-width="1.4"/>
<circle cx="356.2" cy="629.8" r="2.05" fill="none" stroke="#3599cb" stroke-width="1.4"/>
<circle cx="351.5" cy="652.8" r="2.05" fill="none" stroke="#3599cb" stroke-width="1.4"/>
<circle cx="341.7" cy="673.6" r="2.05" fill="none" stroke="#3599cb" stroke-width="1.4"/>
<circle cx="460.9" cy="538.1" r="2.05" fill="none" stroke="#3599cb" stroke-width="1.4"/>
<circle cx="459.8" cy="564.0" r="2.05" fill="none" stroke="#3599cb" stroke-width="1.4"/>
<circle cx="435.9" cy="579.4" r="2.05" fill="none" stroke="#3599cb" stroke-width="1.4"/>
<circle cx="440.2" cy="578.2" r="2.05" fill="none" stroke="#3599cb" stroke-width="1.4"/>
<circle cx="458.3" cy="577.5" r="2.05" fill="none" stroke="#3599cb" stroke-width="1.4"/>
<circle cx="461.4" cy="577.5" r="2.05" fill="none" stroke="#3599cb" stroke-width="1.4"/>
<circle cx="464.0" cy="580.9" r="2.05" fill="none" stroke="#3599cb" stroke-width="1.4"/>
<circle cx="451.6" cy="586.3" r="2.05" fill="none" stroke="#3599cb" stroke-width="1.4"/>
<circle cx="455.9" cy="587.2" r="2.05" fill="none" stroke="#3599cb" stroke-width="1.4"/>
<circle cx="434.7" cy="590.0" r="2.05" fill="none" stroke="#3599cb" stroke-width="1.4"/>
<circle cx="446.4" cy="589.6" r="2.05" fill="none" stroke="#3599cb" stroke-width="1.4"/>
<circle cx="459.0" cy="585.0" r="2.05" fill="none" stroke="#3599cb" stroke-width="1.4"/>
<circle cx="436.7" cy="597.9" r="2.05" fill="none" stroke="#3599cb" stroke-width="1.4"/>
<circle cx="437.5" cy="601.3" r="2.05" fill="none" stroke="#3599cb" stroke-width="1.4"/>
<circle cx="450.2" cy="600.4" r="2.05" fill="none" stroke="#3599cb" stroke-width="1.4"/>
<circle cx="453.4" cy="586.9" r="2.05" fill="none" stroke="#3599cb" stroke-width="1.4"/>
<circle cx="459.2" cy="603.1" r="2.05" fill="none" stroke="#3599cb" stroke-width="1.4"/>
<circle cx="460.3" cy="609.6" r="2.05" fill="none" stroke="#3599cb" stroke-width="1.4"/>
<circle cx="448.8" cy="609.4" r="2.05" fill="none" stroke="#3599cb" stroke-width="1.4"/>
<circle cx="454.8" cy="607.6" r="2.05" fill="none" stroke="#3599cb" stroke-width="1.4"/>
<circle cx="435.2" cy="615.2" r="2.05" fill="none" stroke="#3599cb" stroke-width="1.4"/>
<circle cx="435.0" cy="630.7" r="2.05" fill="none" stroke="#3599cb" stroke-width="1.4"/>
<circle cx="438.4" cy="633.1" r="2.05" fill="none" stroke="#3599cb" stroke-width="1.4"/>
<circle cx="443.1" cy="631.9" r="2.05" fill="none" stroke="#3599cb" stroke-width="1.4"/>
<circle cx="445.4" cy="629.4" r="2.05" fill="none" stroke="#3599cb" stroke-width="1.4"/>
<circle cx="453.4" cy="615.4" r="2.05" fill="none" stroke="#3599cb" stroke-width="1.4"/>
<circle cx="458.6" cy="633.0" r="2.05" fill="none" stroke="#3599cb" stroke-width="1.4"/>
<circle cx="462.2" cy="627.6" r="2.05" fill="none" stroke="#3599cb" stroke-width="1.4"/>
<circle cx="460.2" cy="602.3" r="2.05" fill="none" stroke="#3599cb" stroke-width="1.4"/>
<circle cx="458.5" cy="604.6" r="2.05" fill="none" stroke="#3599cb" stroke-width="1.4"/>
<circle cx="455.0" cy="608.1" r="2.05" fill="none" stroke="#3599cb" stroke-width="1.4"/>
<circle cx="452.7" cy="610.4" r="2.05" fill="none" stroke="#4a4f86" stroke-width="1.4"/>
<circle cx="455.0" cy="615.6" r="2.05" fill="none" stroke="#3599cb" stroke-width="1.4"/>
<circle cx="463.1" cy="616.7" r="2.05" fill="none" stroke="#3599cb" stroke-width="1.4"/>
<circle cx="453.8" cy="624.2" r="2.05" fill="none" stroke="#3599cb" stroke-width="1.4"/>
<circle cx="436.1" cy="632.1" r="2.05" fill="none" stroke="#3599cb" stroke-width="1.4"/>
<circle cx="439.6" cy="634.4" r="2.05" fill="none" stroke="#3599cb" stroke-width="1.4"/>
<circle cx="436.7" cy="645.6" r="2.05" fill="none" stroke="#3599cb" stroke-width="1.4"/>
<circle cx="444.8" cy="643.1" r="2.05" fill="none" stroke="#3599cb" stroke-width="1.4"/>
<circle cx="448.8" cy="643.6" r="2.05" fill="none" stroke="#3599cb" stroke-width="1.4"/>
<circle cx="454.6" cy="642.5" r="2.05" fill="none" stroke="#3599cb" stroke-width="1.4"/>
<circle cx="443.6" cy="647.1" r="2.05" fill="none" stroke="#3599cb" stroke-width="1.4"/>
<circle cx="449.8" cy="649.4" r="2.05" fill="none" stroke="#3599cb" stroke-width="1.4"/>
<circle cx="455.2" cy="652.9" r="2.05" fill="none" stroke="#3599cb" stroke-width="1.4"/>
<rect x="244.4" y="184.6" width="34.80" height="49.00" fill="#e48e80" opacity="0.15"/>
<rect x="347.1" y="165.9" width="34.30" height="44.40" fill="#e48e80" opacity="0.15"/>
<rect x="450.4" y="192.2" width="34.40" height="34.40" fill="#e48e80" opacity="0.15"/>
<rect x="142.1" y="600.4" width="34.00" height="19.80" fill="#e48e80" opacity="0.15"/>
<rect x="244.5" y="608.1" width="34.20" height="38.10" fill="#e48e80" opacity="0.15"/>
<rect x="347.1" y="568.3" width="34.40" height="51.60" fill="#e48e80" opacity="0.15"/>
<rect x="450.3" y="580.1" width="34.50" height="46.30" fill="#e48e80" opacity="0.15"/>
<circle cx="252.2" cy="46.1" r="2.05" fill="none" stroke="#9c1230" stroke-width="1.4"/>
<circle cx="229.6" cy="162.7" r="2.05" fill="none" stroke="#9c1230" stroke-width="1.4"/>
<circle cx="237.1" cy="184.5" r="2.05" fill="none" stroke="#9c1230" stroke-width="1.4"/>
<circle cx="230.0" cy="210.2" r="2.05" fill="none" stroke="#9c1230" stroke-width="1.4"/>
<circle cx="245.2" cy="265.3" r="2.05" fill="none" stroke="#9c1230" stroke-width="1.4"/>
<circle cx="257.5" cy="234.2" r="2.05" fill="none" stroke="#9c1230" stroke-width="1.4"/>
<circle cx="335.0" cy="76.1" r="2.05" fill="none" stroke="#9c1230" stroke-width="1.4"/>
<circle cx="334.5" cy="151.0" r="2.05" fill="none" stroke="#9c1230" stroke-width="1.4"/>
<circle cx="348.1" cy="149.2" r="2.05" fill="none" stroke="#9c1230" stroke-width="1.4"/>
<circle cx="335.1" cy="155.6" r="2.05" fill="none" stroke="#9c1230" stroke-width="1.4"/>
<circle cx="356.7" cy="174.8" r="2.05" fill="none" stroke="#9c1230" stroke-width="1.4"/>
<circle cx="341.7" cy="195.6" r="2.05" fill="none" stroke="#9c1230" stroke-width="1.4"/>
<circle cx="353.8" cy="201.9" r="2.05" fill="none" stroke="#9c1230" stroke-width="1.4"/>
<circle cx="345.2" cy="213.5" r="2.05" fill="none" stroke="#9c1230" stroke-width="1.4"/>
<circle cx="339.2" cy="235.4" r="2.05" fill="none" stroke="#9c1230" stroke-width="1.4"/>
<circle cx="345.4" cy="234.0" r="2.05" fill="none" stroke="#9c1230" stroke-width="1.4"/>
<circle cx="449.4" cy="136.7" r="2.05" fill="none" stroke="#9c1230" stroke-width="1.4"/>
<circle cx="446.8" cy="147.1" r="2.05" fill="none" stroke="#9c1230" stroke-width="1.4"/>
<circle cx="441.9" cy="191.3" r="2.05" fill="none" stroke="#9c1230" stroke-width="1.4"/>
<circle cx="460.6" cy="190.3" r="2.05" fill="none" stroke="#9c1230" stroke-width="1.4"/>
<circle cx="462.4" cy="189.1" r="2.05" fill="none" stroke="#9c1230" stroke-width="1.4"/>
<circle cx="444.0" cy="214.5" r="2.05" fill="none" stroke="#9c1230" stroke-width="1.4"/>
<circle cx="437.5" cy="218.4" r="2.05" fill="none" stroke="#9c1230" stroke-width="1.4"/>
<circle cx="433.8" cy="224.8" r="2.05" fill="none" stroke="#9c1230" stroke-width="1.4"/>
<circle cx="439.7" cy="224.4" r="2.05" fill="none" stroke="#9c1230" stroke-width="1.4"/>
<circle cx="444.8" cy="223.2" r="2.05" fill="none" stroke="#9c1230" stroke-width="1.4"/>
<circle cx="452.4" cy="227.2" r="2.05" fill="none" stroke="#9c1230" stroke-width="1.4"/>
<circle cx="462.5" cy="238.3" r="2.05" fill="none" stroke="#9c1230" stroke-width="1.4"/>
<circle cx="434.0" cy="227.5" r="2.05" fill="none" stroke="#9c1230" stroke-width="1.4"/>
<circle cx="454.2" cy="272.5" r="2.05" fill="none" stroke="#9c1230" stroke-width="1.4"/>
<circle cx="126.9" cy="568.1" r="2.05" fill="none" stroke="#9c1230" stroke-width="1.4"/>
<circle cx="127.7" cy="612.3" r="2.05" fill="none" stroke="#9c1230" stroke-width="1.4"/>
<circle cx="236.9" cy="588.1" r="2.05" fill="none" stroke="#9c1230" stroke-width="1.4"/>
<circle cx="245.5" cy="665.5" r="2.05" fill="none" stroke="#9c1230" stroke-width="1.4"/>
<circle cx="354.8" cy="457.5" r="2.05" fill="none" stroke="#9c1230" stroke-width="1.4"/>
<circle cx="353.0" cy="605.5" r="2.05" fill="none" stroke="#9c1230" stroke-width="1.4"/>
<circle cx="349.0" cy="615.3" r="2.05" fill="none" stroke="#9c1230" stroke-width="1.4"/>
<circle cx="360.4" cy="635.5" r="2.05" fill="none" stroke="#9c1230" stroke-width="1.4"/>
<circle cx="437.5" cy="485.6" r="2.05" fill="none" stroke="#9c1230" stroke-width="1.4"/>
<circle cx="449.4" cy="542.9" r="2.05" fill="none" stroke="#9c1230" stroke-width="1.4"/>
<circle cx="446.5" cy="552.5" r="2.05" fill="none" stroke="#9c1230" stroke-width="1.4"/>
<circle cx="450.6" cy="555.1" r="2.05" fill="none" stroke="#9c1230" stroke-width="1.4"/>
<circle cx="437.1" cy="557.1" r="2.05" fill="none" stroke="#9c1230" stroke-width="1.4"/>
<circle cx="437.9" cy="560.9" r="2.05" fill="none" stroke="#9c1230" stroke-width="1.4"/>
<circle cx="453.5" cy="579.5" r="2.05" fill="none" stroke="#9c1230" stroke-width="1.4"/>
<circle cx="442.1" cy="595.0" r="2.05" fill="none" stroke="#9c1230" stroke-width="1.4"/>
<circle cx="434.8" cy="598.5" r="2.05" fill="none" stroke="#9c1230" stroke-width="1.4"/>
<circle cx="444.8" cy="599.8" r="2.05" fill="none" stroke="#9c1230" stroke-width="1.4"/>
<circle cx="459.3" cy="595.1" r="2.05" fill="none" stroke="#9c1230" stroke-width="1.4"/>
<circle cx="461.7" cy="593.2" r="2.05" fill="none" stroke="#9c1230" stroke-width="1.4"/>
<circle cx="443.6" cy="616.9" r="2.05" fill="none" stroke="#9c1230" stroke-width="1.4"/>
<circle cx="447.9" cy="616.1" r="2.05" fill="none" stroke="#9c1230" stroke-width="1.4"/>
<circle cx="437.3" cy="620.6" r="2.05" fill="none" stroke="#9c1230" stroke-width="1.4"/>
<circle cx="434.4" cy="626.8" r="2.05" fill="none" stroke="#9c1230" stroke-width="1.4"/>
<circle cx="439.6" cy="626.2" r="2.05" fill="none" stroke="#9c1230" stroke-width="1.4"/>
<circle cx="444.8" cy="624.6" r="2.05" fill="none" stroke="#9c1230" stroke-width="1.4"/>
<circle cx="441.9" cy="636.6" r="2.05" fill="none" stroke="#9c1230" stroke-width="1.4"/>
<circle cx="448.3" cy="635.5" r="2.05" fill="none" stroke="#9c1230" stroke-width="1.4"/>
<circle cx="452.4" cy="628.8" r="2.05" fill="none" stroke="#9c1230" stroke-width="1.4"/>
<circle cx="457.5" cy="627.4" r="2.05" fill="none" stroke="#9c1230" stroke-width="1.4"/>
<circle cx="434.4" cy="629.8" r="2.05" fill="none" stroke="#9c1230" stroke-width="1.4"/>
<circle cx="462.4" cy="639.6" r="2.05" fill="none" stroke="#9c1230" stroke-width="1.4"/>
<circle cx="454.0" cy="671.7" r="2.05" fill="none" stroke="#9c1230" stroke-width="1.4"/>
<text x="208.6" y="211.3" font-size="9.9" fill="#1c2430" textLength="16.0" lengthAdjust="spacingAndGlyphs" stroke="#1c2430" stroke-width="0.22">641</text>
<text x="259.8" y="208.2" font-size="9.9" fill="#1c2430" textLength="17.7" lengthAdjust="spacingAndGlyphs" stroke="#1c2430" stroke-width="0.22">668</text>
<text x="318.3" y="206.7" font-size="9.9" fill="#1c2430" textLength="16.1" lengthAdjust="spacingAndGlyphs" stroke="#1c2430" stroke-width="0.22">679</text>
<text x="356.7" y="193.8" font-size="9.9" fill="#1c2430" textLength="15.4" lengthAdjust="spacingAndGlyphs" stroke="#1c2430" stroke-width="0.22">777</text>
<text x="417.1" y="202.9" font-size="9.9" fill="#1c2430" textLength="15.4" lengthAdjust="spacingAndGlyphs" stroke="#1c2430" stroke-width="0.22">707</text>
<text x="462.1" y="218.1" font-size="9.9" fill="#1c2430" textLength="17.5" lengthAdjust="spacingAndGlyphs" stroke="#1c2430" stroke-width="0.22">589</text>
<text x="107.7" y="616.4" font-size="9.9" fill="#1c2430" textLength="16.3" lengthAdjust="spacingAndGlyphs" stroke="#1c2430" stroke-width="0.22">621</text>
<text x="150.9" y="609.6" font-size="9.9" fill="#1c2430" textLength="16.6" lengthAdjust="spacingAndGlyphs" stroke="#1c2430" stroke-width="0.22">676</text>
<text x="210.4" y="609.8" font-size="9.9" fill="#1c2430" textLength="16.2" lengthAdjust="spacingAndGlyphs" stroke="#1c2430" stroke-width="0.22">678</text>
<text x="253.1" y="624.4" font-size="9.9" fill="#1c2430" textLength="16.9" lengthAdjust="spacingAndGlyphs" stroke="#1c2430" stroke-width="0.22">554</text>
<text x="310.9" y="600.8" font-size="9.9" fill="#1c2430" textLength="15.8" lengthAdjust="spacingAndGlyphs" stroke="#1c2430" stroke-width="0.22">748</text>
<text x="359.8" y="608.2" font-size="9.9" fill="#1c2430" textLength="17.3" lengthAdjust="spacingAndGlyphs" stroke="#1c2430" stroke-width="0.22">692</text>
<text x="415.2" y="606.8" font-size="9.9" fill="#1c2430" textLength="16.2" lengthAdjust="spacingAndGlyphs" stroke="#1c2430" stroke-width="0.22">702</text>
<text x="465.6" y="606.0" font-size="9.9" fill="#1c2430" textLength="15.8" lengthAdjust="spacingAndGlyphs" stroke="#1c2430" stroke-width="0.22">705</text>
<rect x="0.5" y="0.5" width="519" height="806" fill="none" stroke="#1a1a1a" stroke-width="1"/>
</svg></body></html>
